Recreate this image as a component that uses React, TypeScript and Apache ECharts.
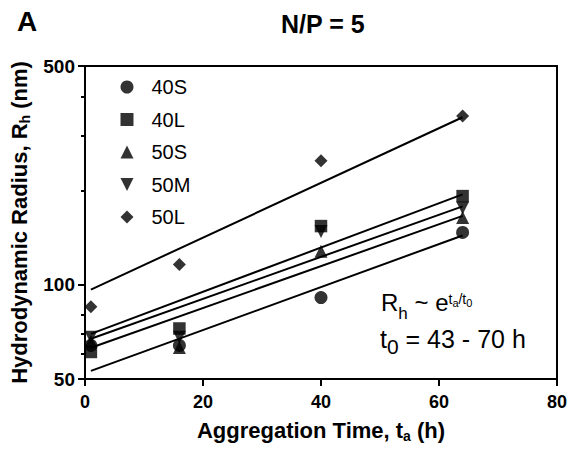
import React, { useEffect, useRef } from 'react';
import * as echarts from 'echarts';

// ---- data ----
const timePoints = [1, 16, 40, 64];
const seriesNames = ['40S', '40L', '50S', '50M', '50L'];
const r40S = [64, 64, 91, 147];
const r40L = [61, 72.5, 154, 192];
const r50S = [66, 63, 128, 164];
const r50M = [68, 68, 148, 176];
const r50L = [85, 116, 249, 346];
const fitTimes = [1, 64];
const fit40S = [53.1, 143.7];
const fit40L = [69.7, 194.4];
const fit50S = [62.9, 166];
const fit50M = [67.2, 178];
const fit50L = [96.5, 343];
const yMajorTicks = [50, 100, 500];
const yMinorTicks = [60, 70, 80, 200, 300, 400];

const FONT = 'Liberation Sans, Arial, sans-serif';
const DOWN_TRIANGLE = 'path://M0,0L10,0L5,10Z';

const symbols: Record<string, { symbol: string; size: number }> = {
  '40S': { symbol: 'circle', size: 13 },
  '40L': { symbol: 'rect', size: 12.5 },
  '50S': { symbol: 'triangle', size: 13 },
  '50M': { symbol: DOWN_TRIANGLE, size: 13 },
  '50L': { symbol: 'diamond', size: 13 },
};

export default function App() {
  const ref = useRef<HTMLDivElement>(null);
  useEffect(() => {
    if (!ref.current) return;
    const chart = echarts.init(ref.current, undefined, { renderer: 'svg' });
    const values = [r40S, r40L, r50S, r50M, r50L];
    const fits = [fit40S, fit40L, fit50S, fit50M, fit50L];
    const scatterSeries = seriesNames.map((name, i) => ({
      type: 'scatter',
      name,
      symbol: symbols[name].symbol,
      symbolSize: symbols[name].size,
      itemStyle: { color: '#000' },
      data: timePoints.map((t, j) => [t, values[i][j]]),
      z: 3,
    }));
    const lineSeries = seriesNames.map((name, i) => ({
      type: 'line',
      name: 'fit ' + name,
      showSymbol: false,
      symbol: 'none',
      lineStyle: { color: '#000', width: 2 },
      data: fitTimes.map((t, j) => [t, fits[i][j]]),
      z: 2,
    }));
    chart.setOption({
      animation: false,
      title: {
        text: 'N/P = 5',
        left: 276,
        top: 6,
        textStyle: { fontFamily: FONT, fontWeight: 'bold', fontSize: 25, color: '#000' },
      },
      legend: {
        data: seriesNames.map((name) => ({ name, icon: symbols[name].symbol })),
        orient: 'vertical',
        left: 115.5,
        top: 72,
        itemWidth: 13,
        itemHeight: 13,
        itemGap: 12.5,
        textStyle: { fontFamily: FONT, fontSize: 20, color: '#000', padding: [0, 0, 0, 13] },
      },
      grid: {
        left: 85,
        right: 16,
        top: 66,
        bottom: 70,
        show: true,
        borderColor: '#000',
        borderWidth: 2,
        backgroundColor: 'transparent',
      },
      xAxis: {
        type: 'value',
        min: 0,
        max: 80,
        interval: 20,
        name: 'Aggregation Time, t{s|a} (h)',
        nameLocation: 'middle',
        nameGap: 38,
        nameTextStyle: {
          fontFamily: FONT,
          fontWeight: 'bold',
          fontSize: 22,
          color: '#000',
          rich: { s: { fontFamily: FONT, fontWeight: 'bold', fontSize: 14, color: '#000', padding: [12, 0, 0, 0] } },
        },
        axisLine: { lineStyle: { color: '#000', width: 2 } },
        axisTick: { length: 7, lineStyle: { color: '#000', width: 2 } },
        axisLabel: { fontFamily: FONT, fontWeight: 'bold', fontSize: 18, color: '#000', margin: 14 },
        splitLine: { show: false },
      },
      yAxis: [
        {
          type: 'log',
          logBase: 10,
          min: 50,
          max: 500,
          name: 'Hydrodynamic Radius, R{s|h} (nm)',
          nameLocation: 'middle',
          nameGap: 50,
          nameTextStyle: {
            fontFamily: FONT,
            fontWeight: 'bold',
            fontSize: 22,
            color: '#000',
            rich: { s: { fontFamily: FONT, fontWeight: 'bold', fontSize: 14, color: '#000', padding: [12, 0, 0, 0] } },
          },
          axisLine: { show: true, lineStyle: { color: '#000', width: 2 } },
          axisTick: { show: true, length: 7, customValues: yMajorTicks, lineStyle: { color: '#000', width: 2 } },
          axisLabel: {
            customValues: yMajorTicks,
            fontFamily: FONT,
            fontWeight: 'bold',
            fontSize: 19,
            color: '#000',
            margin: 10,
          },
          splitLine: { show: false },
        },
        {
          type: 'log',
          logBase: 10,
          min: 50,
          max: 500,
          position: 'left',
          axisLine: { show: false },
          axisTick: { show: true, length: 4, customValues: yMinorTicks, lineStyle: { color: '#000', width: 2 } },
          axisLabel: { show: false },
          splitLine: { show: false },
        },
      ],
      graphic: [
        {
          type: 'text',
          left: 17,
          top: 7,
          style: { text: 'A', fontFamily: FONT, fontWeight: 'bold', fontSize: 28, fill: '#000' },
        },
        {
          type: 'text',
          left: 381,
          top: 290,
          style: {
            text: '{m|R}{sub|h}{m| ~ e}{sup|t}{ss|a}{sup|/t}{ss|0}',
            fill: '#000',
            rich: {
              m: { fontFamily: FONT, fontSize: 24, fill: '#000' },
              sub: { fontFamily: FONT, fontSize: 17, fill: '#000', padding: [22, 0, 0, 0] },
              sup: { fontFamily: FONT, fontSize: 14, fill: '#000', padding: [0, 0, 7, 0] },
              ss: { fontFamily: FONT, fontSize: 11, fill: '#000', padding: [1, 0, 0, 0] },
            },
          },
        },
        {
          type: 'text',
          left: 380,
          top: 326,
          style: {
            text: '{m|t}{sub|0}{m| = 43 - 70 h}',
            fill: '#000',
            rich: {
              m: { fontFamily: FONT, fontSize: 25, fill: '#000' },
              sub: { fontFamily: FONT, fontSize: 21, fill: '#000', padding: [16, 0, 0, 0] },
            },
          },
        },
      ],
      series: [...lineSeries, ...scatterSeries],
    });
    return () => chart.dispose();
  }, []);
  return (
    <div
      ref={ref}
      style={{ position: 'fixed', left: 0, top: 0, width: 573, height: 449, background: '#fff' }}
    />
  );
}
